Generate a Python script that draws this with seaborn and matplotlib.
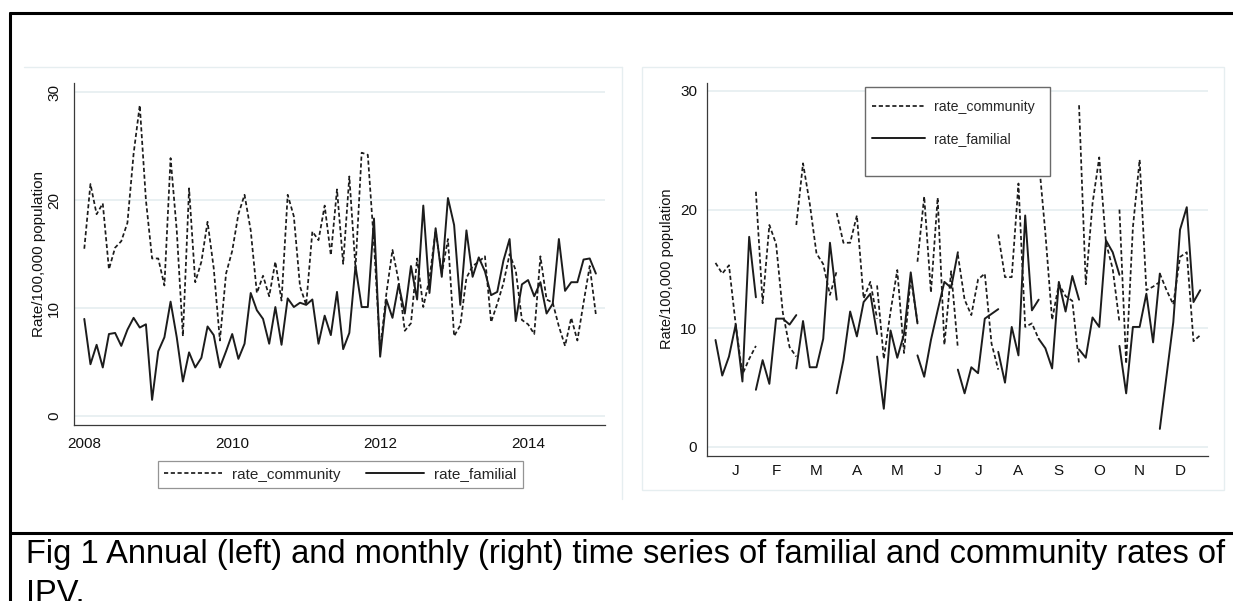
import numpy as np
import pandas as pd
import matplotlib
matplotlib.use("Agg")
import matplotlib.pyplot as plt
from matplotlib.lines import Line2D
from matplotlib.patches import Rectangle
import seaborn as sns

years = [2008, 2009, 2010, 2011, 2012, 2013, 2014]
month_labels = ["J", "F", "M", "A", "M", "J", "J", "A", "S", "O", "N", "D"]
year_ticks = [2008, 2010, 2012, 2014]
rate_ticks = [0, 10, 20, 30]

# Monthly rates per 100,000 population, one row per year (Jan..Dec)
rate_community = [
    [15.5, 21.5, 18.7, 19.7, 13.6, 15.6, 16.2, 17.9, 24.3, 28.8, 20.0, 14.6],  # 2008
    [14.6, 12.1, 23.9, 17.2, 7.4, 21.1, 12.4, 14.3, 18.0, 13.7, 7.0, 13.2],    # 2009
    [15.3, 18.7, 20.5, 17.2, 11.4, 13.0, 11.1, 14.3, 10.7, 20.5, 18.5, 12.0],  # 2010
    [10.3, 17.1, 16.3, 19.5, 14.9, 21.0, 14.1, 22.2, 13.7, 24.4, 24.2, 16.0],  # 2011
    [6.1, 11.3, 15.4, 12.5, 7.9, 8.6, 14.6, 10.1, 12.7, 17.2, 13.2, 16.4],     # 2012
    [7.4, 8.4, 12.8, 13.9, 14.3, 14.8, 8.7, 10.4, 12.3, 15.0, 13.5, 8.9],      # 2013
    [8.5, 7.6, 14.8, 10.8, 10.5, 8.3, 6.5, 9.1, 7.0, 10.5, 13.9, 9.4],         # 2014
]
rate_familial = [
    [9.0, 4.8, 6.6, 4.5, 7.6, 7.7, 6.5, 8.0, 9.1, 8.2, 8.5, 1.5],              # 2008
    [6.0, 7.3, 10.6, 7.3, 3.2, 5.9, 4.5, 5.4, 8.3, 7.5, 4.5, 6.0],             # 2009
    [7.6, 5.3, 6.7, 11.4, 9.8, 9.0, 6.7, 10.1, 6.6, 10.9, 10.1, 10.5],         # 2010
    [10.3, 10.8, 6.7, 9.3, 7.5, 11.5, 6.2, 7.7, 13.9, 10.1, 10.1, 18.3],       # 2011
    [5.5, 10.8, 9.1, 12.2, 9.5, 13.9, 10.8, 19.5, 11.4, 17.4, 12.9, 20.2],     # 2012
    [17.7, 10.3, 17.2, 12.9, 14.7, 13.4, 11.2, 11.5, 14.4, 16.4, 8.8, 12.2],   # 2013
    [12.6, 11.1, 12.4, 9.5, 10.4, 16.4, 11.6, 12.4, 12.4, 14.5, 14.6, 13.2],   # 2014
]

series_values = {"rate_community": rate_community, "rate_familial": rate_familial}

# long-form table: decimal time for the annual view, month-cycle position for the seasonal view
rows = []
for name, table in series_values.items():
    for yi, yr in enumerate(years):
        for mi in range(12):
            rows.append({
                "series": name,
                "year": yr,
                "month": mi + 1,
                "t": yr + mi / 12.0,
                "pos": (mi + 1) - 0.5 + yi / 6.0,
                "rate": table[yi][mi],
            })
df = pd.DataFrame(rows)

sns.set_style("white")
plt.rcParams["font.family"] = ["Liberation Sans", "DejaVu Sans"]

INK = "#1c1c1c"
AXIS = "#3a3a3a"
GRID = "#e3ecef"
line_style = {
    "rate_community": {"dash": (2.4, 1.5), "lw": 1.25},
    "rate_familial": {"dash": "", "lw": 1.4},
}

W, H = 1233, 601
fig = plt.figure(figsize=(W / 100, H / 100), dpi=100)
fig.patch.set_facecolor("white")


def px_box(x0, y0, x1, y1):
    return [x0 / W, 1 - y1 / H, (x1 - x0) / W, (y1 - y0) / H]


def fx(x):
    return x / W


def fy(y):
    return 1 - y / H


ax1 = fig.add_axes(px_box(74.3, 83.3, 605, 425))
ax2 = fig.add_axes(px_box(706.7, 82.7, 1208.3, 455.7))

for name in ["rate_community", "rate_familial"]:
    sub = df[df["series"] == name]
    st = line_style[name]
    sns.lineplot(data=sub, x="t", y="rate", style="series",
                 dashes={name: st["dash"]}, color=INK, lw=st["lw"],
                 estimator=None, legend=False, ax=ax1)
    sns.lineplot(data=sub, x="pos", y="rate", style="series", units="month",
                 dashes={name: st["dash"]}, color=INK, lw=st["lw"],
                 estimator=None, legend=False, ax=ax2)

for ax in (ax1, ax2):
    ax.set_facecolor("white")
    ax.set_yticks(rate_ticks)
    ax.grid(axis="y", color=GRID, lw=1.1)
    ax.grid(axis="x", visible=False)
    ax.set_axisbelow(True)
    for side in ("top", "right"):
        ax.spines[side].set_visible(False)
    for side in ("left", "bottom"):
        ax.spines[side].set_color(AXIS)
        ax.spines[side].set_linewidth(0.9)
    ax.set_xlabel("")

# annual panel
ax1.set_xlim(2007.865, 2015.04)
ax1.set_ylim(-0.83, 30.83)
ax1.set_xticks(year_ticks)
ax1.set_xticklabels([str(y) for y in year_ticks])
ax1.tick_params(axis="x", direction="out", length=4, width=0.8, color=AXIS,
                pad=5, labelsize=11, labelcolor="#111111")
ax1.tick_params(axis="y", direction="out", length=4, width=0.8, color=AXIS,
                pad=5.5, labelsize=11, labelcolor="#111111", labelrotation=90)
for lab in ax1.get_yticklabels():
    lab.set_va("center")
ax1.set_ylabel("Rate/100,000 population", fontsize=11, color="#111111", va="center")
ax1.yaxis.set_label_coords(-0.0665, 0.5)

# monthly cycle panel
ax2.set_xlim(0.282, 12.70)
ax2.set_ylim(-0.76, 30.7)
ax2.set_xticks(range(1, 13))
ax2.set_xticklabels(month_labels)
ax2.tick_params(axis="x", length=0, pad=6, labelsize=11, labelcolor="#111111")
ax2.tick_params(axis="y", direction="out", length=4, width=0.8, color=AXIS,
                pad=3, labelsize=11, labelcolor="#111111")
ax2.set_ylabel("Rate/100,000 population", fontsize=10.5, color="#111111", va="center")
ax2.yaxis.set_label_coords(-0.080, 0.5)

# legends
handles = [
    Line2D([], [], color=INK, lw=line_style["rate_community"]["lw"],
           dashes=line_style["rate_community"]["dash"]),
    Line2D([], [], color=INK, lw=line_style["rate_familial"]["lw"]),
]
labels = ["rate_community", "rate_familial"]

leg1 = fig.legend(handles, labels, ncol=2, loc="center",
                  bbox_to_anchor=(fx(340.3), fy(474.5)), frameon=True,
                  fancybox=False, fontsize=11, handlelength=3.8,
                  handletextpad=0.65, columnspacing=1.7, borderpad=0.4)
leg1.get_frame().set_edgecolor("#7a7a7a")
leg1.get_frame().set_linewidth(0.9)

leg2 = fig.legend(handles, labels, ncol=1, loc="upper left",
                  bbox_to_anchor=(fx(858.5), fy(86.5)), frameon=False,
                  fontsize=10.2, handlelength=3.75, handletextpad=0.6,
                  labelspacing=1.3, borderpad=0.45)
fig.add_artist(Rectangle((fx(865), fy(176)), fx(1050) - fx(865), fy(86.7) - fy(176),
                         transform=fig.transFigure, fill=True, facecolor="white",
                         edgecolor="#6a6a6a", lw=1.0, zorder=2))
leg2.set_zorder(3)

# graph region outlines
region = "#e6eef0"
fig.add_artist(Line2D([fx(24), fx(621.7)], [fy(66.7), fy(66.7)], color=region, lw=1.0,
                      transform=fig.transFigure))
fig.add_artist(Line2D([fx(621.7), fx(621.7)], [fy(66.7), fy(499)], color=region, lw=1.0,
                      transform=fig.transFigure))
fig.add_artist(Rectangle((fx(642.3), fy(490)), fx(1224.3) - fx(642.3), fy(66.7) - fy(490),
                         transform=fig.transFigure, fill=False, edgecolor=region, lw=1.0))

# table cell frame and caption rule
fig.add_artist(Line2D([fx(9.5), 1.0], [fy(12.7), fy(12.7)], color="black", lw=2.2,
                      transform=fig.transFigure))
fig.add_artist(Line2D([fx(9.5), fx(9.5)], [fy(12.7), 0.0], color="black", lw=2.2,
                      transform=fig.transFigure))
fig.add_artist(Line2D([fx(9.5), 1.0], [fy(532.7), fy(532.7)], color="black", lw=2.2,
                      transform=fig.transFigure))

fig.text(fx(26), fy(562.5),
         "Fig 1 Annual (left) and monthly (right) time series of familial and community rates of",
         fontsize=23.5, ha="left", va="baseline", color="black")
fig.text(fx(26), fy(603), "IPV.", fontsize=23.5, ha="left", va="baseline", color="black")

fig.savefig("out.png", dpi=100, facecolor="white")
